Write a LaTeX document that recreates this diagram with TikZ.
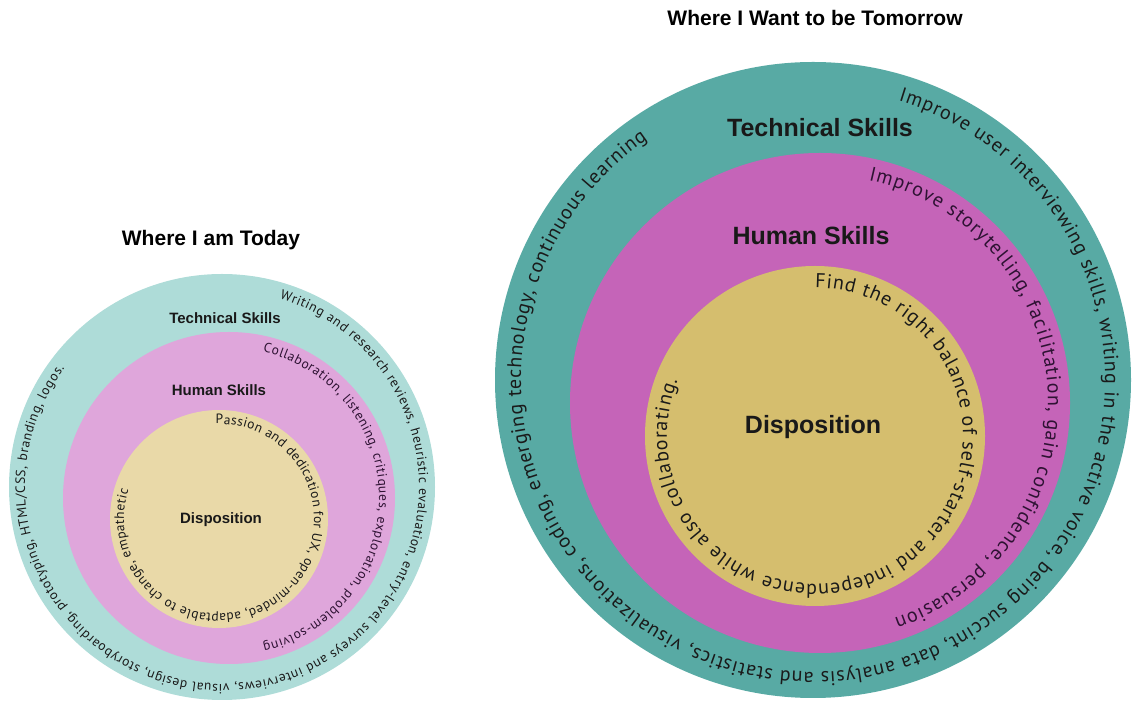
\documentclass[tikz,border=0pt]{standalone}
\usepackage{fontspec}
\setmainfont{Liberation Sans}
\newfontfamily\arcfont{PT Sans}
\usetikzlibrary{decorations.text}
\definecolor{ltteal}{HTML}{AEDCD8}
\definecolor{ltpink}{HTML}{DFA6DB}
\definecolor{ltyel}{HTML}{E9D9A8}
\definecolor{dkteal}{HTML}{58AAA4}
\definecolor{dkpink}{HTML}{C564B8}
\definecolor{dkyel}{HTML}{D5BE6E}
\definecolor{txt}{HTML}{1A1A1A}
\definecolor{ptxt}{HTML}{2E1233}
\tikzset{
  ring/.style={circle, inner sep=0pt, draw=none},
  ttl/.style={font=\fontsize{21}{21}\selectfont\bfseries, text=black},
  lbig/.style={font=\fontsize{25}{25}\selectfont\bfseries, text=black!90},
  lsmall/.style={font=\fontsize{15}{15}\selectfont\bfseries, text=black!90},
}
\begin{document}
\begin{tikzpicture}[x=1pt,y=1pt]
\useasboundingbox (0,0) rectangle (1133,701);
% ---------- left diagram
\node[ttl] (ttlL) at (211,461) {Where I am Today};
\node[ring, fill=ltteal, minimum size=426pt] (Lout) at (222,214) {};
\node[ring, fill=ltpink, minimum size=332pt] (Lmid) at (229,203) {};
\node[ring, fill=ltyel, minimum size=218pt] (Lin) at (219,182) {};
\node[lsmall] (Ltech) at (225,383) {Technical Skills};
\node[lsmall] (Lhum) at (219,311) {Human Skills};
\node[lsmall] (Ldisp) at (221,181) {Disposition};
\path[decorate, decoration={text along path, text align={fit to path},
  text={|\arcfont\fontsize{13.5}{13}\selectfont\color{txt}|Writing and research reviews, heuristic evaluation, entry-level surveys and interviews, visual design, storyboarding, prototyping, HTML/CSS, branding, logos.}}]
  (Lout.center) ++(73:197) arc[start angle=73, end angle=-217, radius=197];
\path[decorate, decoration={text along path, text align={fit to path},
  text={|\arcfont\fontsize{13.5}{13}\selectfont\color{ptxt}|Collaboration, listening, critiques, exploration, problem-solving}}]
  (Lmid.center) ++(77:150) arc[start angle=77, end angle=-77, radius=150];
\path[decorate, decoration={text along path, text align={fit to path},
  text={|\arcfont\fontsize{13.5}{13}\selectfont\color{txt}|Passion and dedication for UX, open-minded, adaptable to change, empathetic}}]
  (Lin.center) ++(92:95) arc[start angle=92, end angle=-198, radius=95];
% ---------- right diagram
\node[ttl] (ttlR) at (815,683) {Where I Want to be Tomorrow};
\node[ring, fill=dkteal, minimum size=636pt] (Rout) at (813,321) {};
\node[ring, fill=dkpink, minimum size=500pt] (Rmid) at (820,298) {};
\node[ring, fill=dkyel, minimum size=340pt] (Rin) at (815,265) {};
\node[lbig] (Rtech) at (820,573) {Technical Skills};
\node[lbig] (Rhum) at (811,465) {Human Skills};
\node[lbig] (Rdisp) at (813,274) {Disposition};
\path[decorate, decoration={text along path, text align={fit to path},
  text={|\arcfont\fontsize{20}{20}\selectfont\color{txt}|Improve user interviewing skills, writing in the active voice, being succint, data analysis and statistics, visualizations, coding, emerging technology, continuous learning}}]
  (Rout.center) ++(73:292) arc[start angle=73, end angle=-235.5, radius=292];
\path[decorate, decoration={text along path, text align={fit to path},
  text={|\arcfont\fontsize{20}{20}\selectfont\color{ptxt}|Improve storytelling, facilitation, gain confidence, persuasion}}]
  (Rmid.center) ++(77.7:228) arc[start angle=77.7, end angle=-71, radius=228];
\path[decorate, decoration={text along path, text align={fit to path},
  text={|\arcfont\fontsize{20}{20}\selectfont\color{txt}|Find the right balance of self-starter and independence while also collaborating.}}]
  (Rin.center) ++(90:148) arc[start angle=90, end angle=-202, radius=148];
\end{tikzpicture}
\end{document}
